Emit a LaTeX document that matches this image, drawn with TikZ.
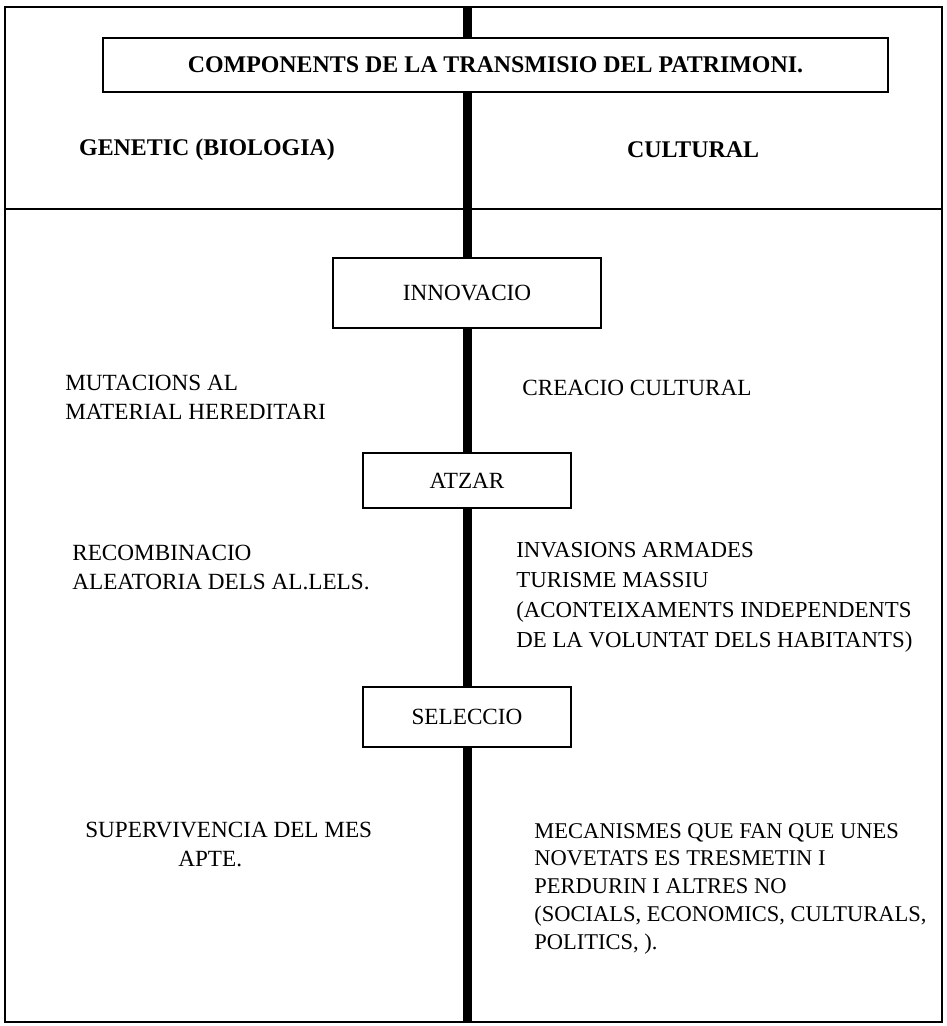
\documentclass[tikz,border=0pt]{standalone}
\usepackage{fontspec}
\setmainfont{Liberation Serif}
\begin{document}
\begin{tikzpicture}[
    frame/.style={draw, line width=1.6pt},
    spine/.style={draw, line width=0.18cm},
    titlebox/.style={draw, line width=1.6pt, fill=white, minimum width=15.70cm, minimum height=1.08cm,
      font=\bfseries\fontsize{13.6}{16}\selectfont},
    heading/.style={font=\bfseries\fontsize{13.6}{16}\selectfont},
    stagebox/.style={draw, line width=1.6pt, fill=white, minimum width=4.16cm, minimum height=1.10cm,
      font=\fontsize{13.2}{16}\selectfont},
    body/.style={align=left, anchor=west, inner sep=0pt, font=\fontsize{13.2}{16.5}\selectfont}
]
  \useasboundingbox (0,0) rectangle (18.94,20.52);
  % --- outer frame and header row ------------------------------------------
  \draw[frame] (0.10,0.08) rectangle (18.84,20.38);
  \draw[frame] (0.10,16.34) -- (18.84,16.34);
  \node[titlebox] (title) at (9.91,19.22) {COMPONENTS DE LA TRANSMISIO DEL PATRIMONI.};
  \node[heading] (genetic) at (4.14,17.52) {GENETIC (BIOLOGIA)};
  \node[heading] (cultural) at (13.86,17.52) {CULTURAL};
  % --- the three stages on the spine ---------------------------------------
  \coordinate (spinetop) at (9.34,20.38);
  \coordinate (spinebot) at (9.34,0.08);
  \node[stagebox, minimum width=5.36cm, minimum height=1.40cm] (innov) at (9.34,14.66) {INNOVACIO};
  \node[stagebox] (atzar) at (9.34,10.91) {ATZAR};
  \node[stagebox, minimum height=1.20cm] (select) at (9.34,6.18) {SELECCIO};
  \draw[spine] (spinetop) -- (spinetop |- title.north);
  \draw[spine] (spinetop |- title.south) -- (innov.north);
  \draw[spine] (innov.south) -- (atzar.north);
  \draw[spine] (atzar.south) -- (select.north);
  \draw[spine] (select.south) -- (spinebot);
  % --- genetic side ---------------------------------------------------------
  \node[body] (mutac) at (1.30,12.57) {MUTACIONS AL\\MATERIAL HEREDITARI};
  \node[body] (recomb) at (1.44,9.18) {RECOMBINACIO\\ALEATORIA DELS AL.LELS.};
  \node[body] (superv) at (1.70,3.64) {SUPERVIVENCIA DEL MES\\\hspace*{1.86cm}APTE.};
  % --- cultural side --------------------------------------------------------
  \node[body] (creacio) at (10.44,12.76) {CREACIO CULTURAL};
  \node[body, font=\fontsize{13.0}{17}\selectfont] (invas) at (10.32,8.57) {INVASIONS ARMADES\\TURISME MASSIU\\(ACONTEIXAMENTS INDEPENDENTS\\DE LA VOLUNTAT DELS HABITANTS)};
  \node[body, font=\fontsize{12.8}{15.8}\selectfont] (mecan) at (10.68,2.75) {MECANISMES QUE FAN QUE UNES\\NOVETATS ES TRESMETIN I\\PERDURIN I ALTRES NO\\(SOCIALS, ECONOMICS, CULTURALS,\\POLITICS, ).};
\end{tikzpicture}
\end{document}
